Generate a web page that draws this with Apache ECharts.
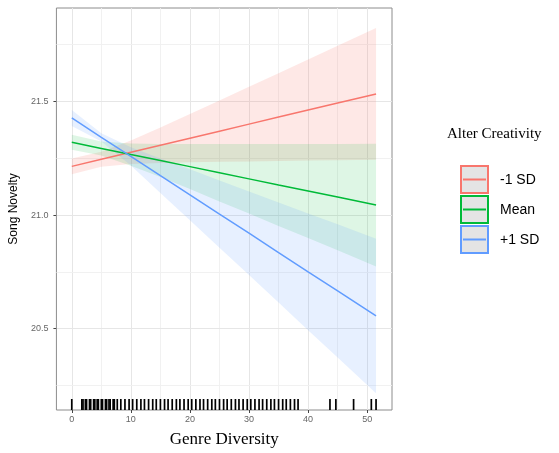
<!DOCTYPE html>
<html><head><meta charset="utf-8">
<script src="https://cdn.jsdelivr.net/npm/echarts@6/dist/echarts.min.js"></script>
<style>html,body{margin:0;padding:0;background:#fff}#c{width:559px;height:453px}</style>
</head><body><div id="c"></div>
<script>
// ---- data ----
const groups = ['-1 SD', 'Mean', '+1 SD'];
const colors = ['#F8766D', '#00BA38', '#619CFF'];
const bandX = [0, 5, 10, 15, 20, 25, 30, 35, 40, 45, 51.5];

const fitLow  = [21.214, 21.245, 21.276, 21.307, 21.338, 21.369, 21.400, 21.431, 21.462, 21.493, 21.533];
const fitMean = [21.320, 21.293, 21.266, 21.240, 21.213, 21.186, 21.159, 21.132, 21.106, 21.079, 21.044];
const fitHigh = [21.427, 21.342, 21.258, 21.173, 21.089, 21.004, 20.920, 20.835, 20.750, 20.666, 20.556];

const lowLower  = [21.179, 21.212, 21.224, 21.229, 21.232, 21.234, 21.236, 21.238, 21.240, 21.241, 21.243];
const lowUpper  = [21.249, 21.278, 21.328, 21.385, 21.444, 21.504, 21.564, 21.624, 21.684, 21.745, 21.823];
const meanLower = [21.287, 21.262, 21.217, 21.167, 21.114, 21.060, 21.007, 20.952, 20.899, 20.845, 20.774];
const meanUpper = [21.353, 21.324, 21.315, 21.313, 21.312, 21.312, 21.312, 21.312, 21.313, 21.313, 21.314];
const highLower = [21.392, 21.324, 21.218, 21.097, 20.977, 20.856, 20.736, 20.615, 20.493, 20.373, 20.216];
const highUpper = [21.462, 21.360, 21.298, 21.249, 21.201, 21.152, 21.104, 21.055, 21.007, 20.959, 20.896];

const rugX = [0, 1.7, 1.9, 2.3, 2.5, 3.0, 3.2, 3.7, 3.9, 4.3, 4.5, 5.0, 5.2, 5.7, 5.9, 6.3, 6.5, 7.0, 7.2, 7.7,
  8.3, 9.0, 9.7, 10.3, 11.0, 11.7, 12.3, 13.0, 13.7, 14.3, 15.0, 15.7, 16.3, 17.0, 17.7, 18.3, 19.0, 19.7,
  20.3, 21.0, 21.7, 22.3, 23.0, 23.7, 24.3, 25.0, 25.7, 26.3, 27.0, 27.7, 28.3, 29.0, 29.7, 30.3, 31.0,
  31.7, 32.3, 33.0, 33.7, 34.3, 35.0, 35.7, 36.3, 37.0, 37.7, 38.3, 43.7, 44.7, 47.7, 50.7, 51.5];

const xTicks = [0, 10, 20, 30, 40, 50];
const xMinor = [5, 15, 25, 35, 45];
const yTicks = [20.5, 21.0, 21.5];
const yMinor = [20.25, 20.75, 21.25, 21.75];

const X_MIN = -2.6, X_MAX = 54.2, Y_MIN = 20.142, Y_MAX = 21.911;

const fits = [fitLow, fitMean, fitHigh];
const lowers = [lowLower, meanLower, highLower];
const uppers = [lowUpper, meanUpper, highUpper];

const chart = echarts.init(document.getElementById('c'), null, {renderer: 'canvas'});

const series = [];

const gl = (v, axis, major) => ({
  [axis]: v,
  lineStyle: {color: major ? '#e6e6e6' : '#efefef', width: major ? 1 : 0.9, type: 'solid'}
});
series.push({
  type: 'line', name: 'grid', data: [], silent: true, z: 0,
  markLine: {
    silent: true, symbol: 'none', z: 0, animation: false,
    label: {show: false},
    data: [
      ...xTicks.map(v => gl(v, 'xAxis', true)),
      ...xMinor.map(v => gl(v, 'xAxis', false)),
      ...yTicks.map(v => gl(v, 'yAxis', true)),
      ...yMinor.map(v => gl(v, 'yAxis', false))
    ]
  }
});

const bandOpacity = [0.17, 0.13, 0.15];
groups.forEach((g, gi) => {
  series.push({
    type: 'custom', name: g + ' band', z: 1, silent: true,
    data: bandX.map((x, i) => [x, lowers[gi][i], uppers[gi][i]]),
    encode: {x: 0, y: [1, 2]},
    renderItem: (params, api) => {
      if (params.dataIndex !== 0) return null;
      const pts = [];
      for (let i = 0; i < bandX.length; i++) pts.push(api.coord([bandX[i], uppers[gi][i]]));
      for (let i = bandX.length - 1; i >= 0; i--) pts.push(api.coord([bandX[i], lowers[gi][i]]));
      return {type: 'polygon', shape: {points: pts}, style: {fill: colors[gi], opacity: bandOpacity[gi]}};
    }
  });
});

groups.forEach((g, gi) => {
  series.push({
    type: 'line', name: g, z: 3, silent: true,
    data: bandX.map((x, i) => [x, fits[gi][i]]),
    showSymbol: false, symbol: 'none',
    lineStyle: {color: colors[gi], width: 1.5},
    itemStyle: {color: colors[gi]}
  });
});

series.push({
  type: 'custom', name: 'rug', z: 4, silent: true,
  data: rugX.map(x => [x]),
  encode: {x: 0},
  renderItem: (params, api) => {
    const p = api.coord([api.value(0), Y_MIN]);
    return {type: 'line', shape: {x1: p[0], y1: p[1], x2: p[0], y2: p[1] - 11},
            style: {stroke: '#000', lineWidth: 1.7}};
  }
});

const legendItems = [];
groups.forEach((g, gi) => {
  const y = 166 + 30 * gi;
  legendItems.push(
    {type: 'rect', shape: {x: 461, y: y, width: 27, height: 27},
     style: {fill: '#e4e4e4', stroke: colors[gi], lineWidth: 2}},
    {type: 'line', shape: {x1: 463, y1: y + 13.5, x2: 486, y2: y + 13.5},
     style: {stroke: colors[gi], lineWidth: 2}},
    {type: 'text', x: 500, y: y + 14,
     style: {text: g, fontFamily: 'Liberation Sans, Arial, sans-serif', fontSize: 14,
             fill: '#000', verticalAlign: 'middle', align: 'left'}}
  );
});

chart.setOption({
  animation: false,
  backgroundColor: '#fff',
  grid: {left: 53, right: 167, top: 8, bottom: 40, show: true,
         borderColor: '#8c8c8c', borderWidth: 1, backgroundColor: '#fff', containLabel: false},
  xAxis: {
    type: 'value', min: X_MIN, max: X_MAX,
    name: 'Genre Diversity', nameLocation: 'middle', nameGap: 21,
    nameTextStyle: {fontFamily: 'Liberation Serif, Times New Roman, serif', fontSize: 17, color: '#000'},
    axisLine: {show: false, onZero: false},
    splitLine: {show: false},
    axisTick: {show: true, length: 3, inside: false, customValues: xTicks, lineStyle: {color: '#444', width: 1}},
    axisLabel: {customValues: xTicks, margin: 5, fontSize: 9, color: '#666',
                fontFamily: 'Liberation Sans, Arial, sans-serif', formatter: v => String(v)}
  },
  yAxis: {
    type: 'value', min: Y_MIN, max: Y_MAX,
    name: 'Song Novelty', nameLocation: 'middle', nameGap: 30, nameRotate: 90,
    nameTextStyle: {fontFamily: 'Liberation Sans, Arial, sans-serif', fontSize: 12, color: '#000'},
    axisLine: {show: false, onZero: false},
    splitLine: {show: false},
    axisTick: {show: true, length: 3, inside: false, customValues: yTicks, lineStyle: {color: '#444', width: 1}},
    axisLabel: {customValues: yTicks, margin: 8, fontSize: 9, color: '#666',
                fontFamily: 'Liberation Sans, Arial, sans-serif', formatter: v => v.toFixed(1)}
  },
  series: series,
  graphic: [
    {type: 'text', x: 447, y: 134,
     style: {text: 'Alter Creativity', fontFamily: 'Liberation Serif, Times New Roman, serif',
             fontSize: 15, fill: '#000', verticalAlign: 'middle', align: 'left'}},
    ...legendItems
  ]
});
</script>
</body></html>
